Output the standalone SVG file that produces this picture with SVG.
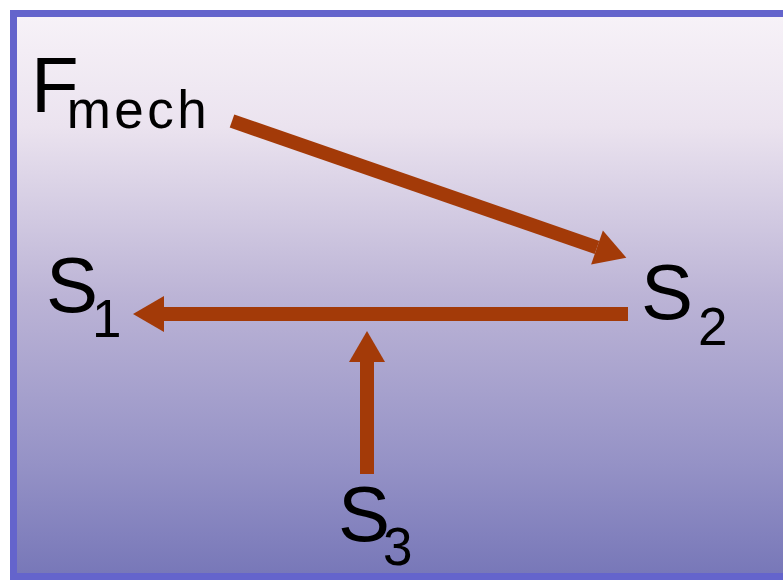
<svg xmlns="http://www.w3.org/2000/svg" width="783" height="581" viewBox="0 0 783 581">
  <defs>
    <linearGradient id="bg" x1="0" y1="0" x2="0" y2="1">
      <stop offset="0" stop-color="#f7f2f8"/>
      <stop offset="0.2" stop-color="#ebe3ef"/>
      <stop offset="0.5" stop-color="#bcb4d6"/>
      <stop offset="0.8" stop-color="#9592c6"/>
      <stop offset="1" stop-color="#7777b8"/>
    </linearGradient>
    <marker id="head" markerUnits="userSpaceOnUse" markerWidth="34" markerHeight="38" refX="0" refY="18" orient="auto" overflow="visible">
      <path d="M0,0 L31,18 L0,36 z" fill="#a33a08"/>
    </marker>
    <style>
      .lbl { font-family: "Liberation Sans", Arial, sans-serif; fill: #000; font-size: 78px; }
      .sub { font-size: 53px; }
      .arr { stroke: #a33a08; stroke-width: 14; fill: none; marker-end: url(#head); }
    </style>
  </defs>
  <rect x="0" y="0" width="783" height="581" fill="#ffffff"/>
  <rect x="13.5" y="13.5" width="780" height="563" fill="url(#bg)" stroke="#6464cc" stroke-width="7"/>

  <g id="connectors">
    <line class="arr" x1="232" y1="121" x2="597" y2="247.5"/>
    <line class="arr" x1="628" y1="314" x2="164" y2="314"/>
    <line class="arr" x1="367" y1="474" x2="367" y2="362"/>
  </g>

  <g id="Fmech">
    <text class="lbl" x="31" y="112">F<tspan class="sub" dx="-12" dy="16" letter-spacing="3.5">mech</tspan></text>
  </g>
  <g id="S1">
    <text class="lbl" x="46" y="312">S<tspan class="sub" dx="-6" dy="25">1</tspan></text>
  </g>
  <g id="S2">
    <text class="lbl" x="641" y="319">S<tspan class="sub" dx="5" dy="26">2</tspan></text>
  </g>
  <g id="S3">
    <text class="lbl" x="338" y="541">S<tspan class="sub" dx="-7" dy="24">3</tspan></text>
  </g>
</svg>
